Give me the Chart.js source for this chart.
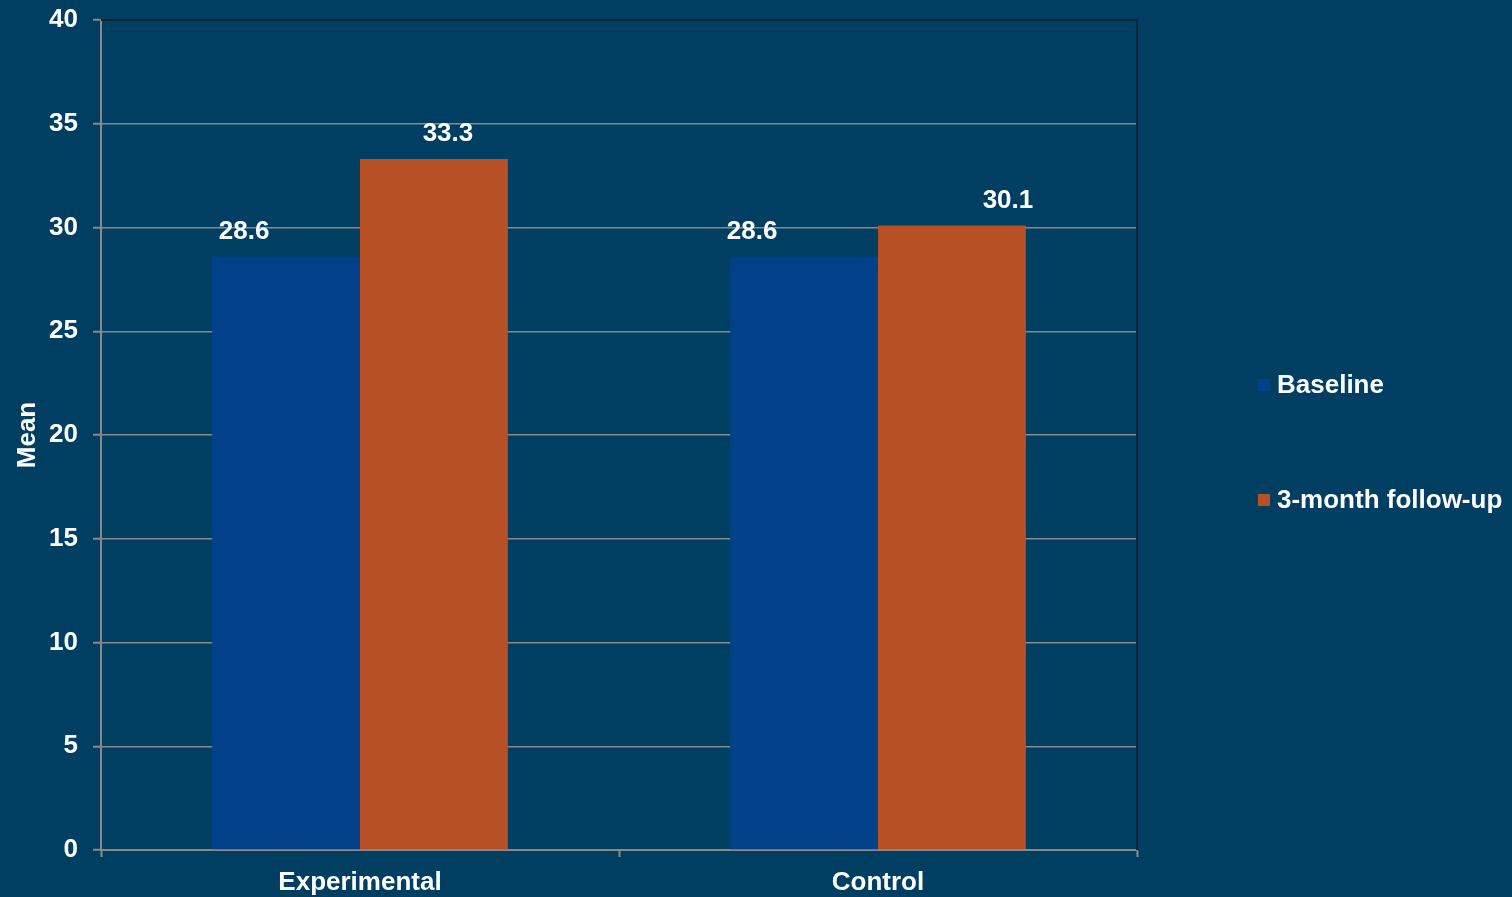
<!DOCTYPE html>
<html>
<head>
<meta charset="utf-8">
<script src="https://cdn.jsdelivr.net/npm/chart.js@4"></script>
<style>
  html, body { margin: 0; padding: 0; background: #003f62; }
  #wrap { width: 1512px; height: 897px; }
</style>
</head>
<body>
<div id="wrap"><canvas id="barCanvas" width="1512" height="897"></canvas></div>
<script>
const categories = ['Experimental', 'Control'];
const seriesNames = ['Baseline', '3-month follow-up'];
const baseline = [28.6, 28.6];
const followUp = [33.3, 30.1];
const seriesColors = ['#00418a', '#b85026'];

const FONT = '"Liberation Sans", Arial, sans-serif';
const GRID = '#8a8a8a';

// value labels above bars (offsets copy the odd placement of the original)
const valueLabels = {
    id: 'valueLabels',
    afterDatasetsDraw(chart, args, opts) {
        const ctx = chart.ctx;
        ctx.save();
        ctx.font = 'bold 26px ' + FONT;
        ctx.fillStyle = '#ffffff';
        ctx.textAlign = 'center';
        ctx.textBaseline = 'middle';
        chart.data.datasets.forEach(function(ds, i) {
            chart.getDatasetMeta(i).data.forEach(function(bar, j) {
                const dx = opts.dx[i][j];
                ctx.fillText(ds.data[j].toFixed(1), bar.x + dx, bar.y - opts.gap);
            });
        });
        ctx.restore();
    }
};

// plot border on top/right and legend on the right side
const frameAndLegend = {
    id: 'frameAndLegend',
    afterDraw(chart, args, opts) {
        const ctx = chart.ctx;
        const a = chart.chartArea;
        ctx.save();
        ctx.strokeStyle = '#0b2436';
        ctx.lineWidth = 2;
        ctx.beginPath();
        ctx.moveTo(a.left, a.top);
        ctx.lineTo(a.right, a.top);
        ctx.lineTo(a.right, a.bottom);
        ctx.stroke();

        ctx.font = 'bold 26px ' + FONT;
        ctx.textAlign = 'left';
        ctx.textBaseline = 'middle';
        chart.data.datasets.forEach(function(ds, i) {
            const y = opts.y[i];
            ctx.fillStyle = ds.backgroundColor;
            ctx.fillRect(opts.x, y - 6, 12, 12);
            ctx.fillStyle = '#ffffff';
            ctx.fillText(ds.label, opts.x + 19, y + 1);
        });
        ctx.restore();
    }
};

new Chart(document.getElementById('barCanvas'), {
    type: 'bar',
    data: {
        labels: categories,
        datasets: [
            { label: seriesNames[0], data: baseline, backgroundColor: seriesColors[0] },
            { label: seriesNames[1], data: followUp, backgroundColor: seriesColors[1] }
        ]
    },
    options: {
        responsive: false,
        animation: false,
        layout: { padding: { top: 20, right: 375, left: 0, bottom: 0 } },
        datasets: {
            bar: { categoryPercentage: 0.571, barPercentage: 1.0 }
        },
        scales: {
            x: {
                afterFit: function(s) { s.height = 47; },
                grid: { drawOnChartArea: false, drawTicks: true, tickLength: 7, tickColor: GRID, tickWidth: 2 },
                border: { color: GRID, width: 2 },
                ticks: { color: '#ffffff', font: { family: FONT, size: 26, weight: 'bold' }, padding: 10 }
            },
            y: {
                min: 0,
                max: 40,
                afterFit: function(s) { s.width = 101; s.paddingTop = 0; s.paddingBottom = 0; },
                ticks: { stepSize: 5, color: '#ffffff', font: { family: FONT, size: 26, weight: 'bold' }, padding: 15 },
                grid: { color: GRID, lineWidth: 1.5, tickLength: 8, tickColor: GRID, tickWidth: 2 },
                border: { color: GRID, width: 2 },
                title: {
                    display: true,
                    text: 'Mean',
                    color: '#ffffff',
                    font: { family: FONT, size: 26, weight: 'bold' },
                    padding: { top: 12, bottom: 0 }
                }
            }
        },
        plugins: {
            legend: { display: false },
            tooltip: { enabled: false },
            valueLabels: { dx: [[-42, -52], [14, 56]], gap: 25 },
            frameAndLegend: { x: 1258, y: [385, 500] }
        }
    },
    plugins: [valueLabels, frameAndLegend]
});
</script>
</body>
</html>
